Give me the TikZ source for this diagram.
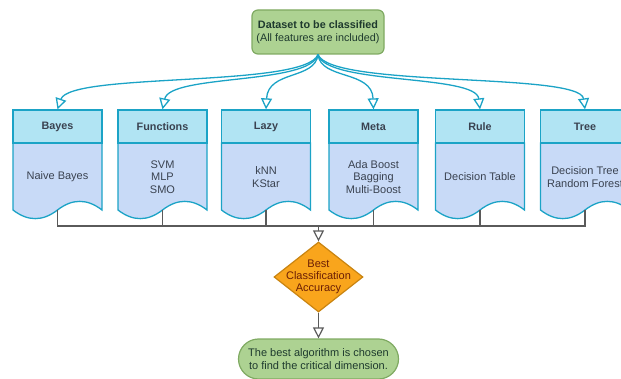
\documentclass[tikz,border=0pt]{standalone}
\usepackage{fontspec}
\setmainfont{Liberation Sans}
\usetikzlibrary{shapes.geometric,arrows.meta,calc}
\definecolor{teal1}{HTML}{1BA3C6}
\definecolor{hdrfill}{HTML}{B1E4F3}
\definecolor{bodyfill}{HTML}{C8DAF7}
\definecolor{grnfill}{HTML}{ADD292}
\definecolor{grnline}{HTML}{7FAA62}
\definecolor{orfill}{HTML}{F9A51C}
\definecolor{orline}{HTML}{C98410}
\definecolor{txtdark}{HTML}{3A4250}
\definecolor{grntxt}{HTML}{1E3A2E}
\definecolor{redtxt}{HTML}{6B1E05}
\definecolor{conn}{HTML}{5A5A5A}
\tikzset{
  fnt/.style={font=\fontsize{11}{12.3}\selectfont},
  hdr/.style={draw=teal1, fill=hdrfill, line width=1.3pt, minimum width=89pt,
    minimum height=33pt, inner sep=0pt, font=\fontsize{10.8}{12.5}\selectfont\bfseries, text=txtdark},
  bodytxt/.style={fnt, align=center, text=txtdark, inner sep=0pt},
  bodyshape/.style={draw=teal1, fill=bodyfill, line width=1.3pt},
  topn/.style={draw=grnline, fill=grnfill, line width=1.2pt, rounded corners=6pt,
    minimum width=132pt, minimum height=44pt, inner sep=0pt, align=center,
    font=\fontsize{10.8}{12.7}\selectfont, text=grntxt},
  endn/.style={draw=grnline, fill=grnfill, line width=1.2pt, rounded corners=20pt,
    minimum width=160pt, minimum height=40pt, inner sep=0pt, align=center, fnt, text=grntxt},
  dia/.style={diamond, draw=orline, fill=orfill, line width=1.2pt, minimum width=89pt,
    minimum height=70pt, inner sep=0pt},
  openarr/.style={-{Triangle[fill=white, length=11pt, width=11pt]}},
  curve/.style={draw=teal1, line width=1.3pt, openarr},
  gcon/.style={draw=conn, line width=1.2pt},
}
\newcommand\docbox[4]{%
  \draw[bodyshape] ({#2-44.5},143) -- ({#2+44.5},143) -- ({#2+44.5},210)
    .. controls ({#2+29.7},198.5) and ({#2+14.8},198.5) .. (#2,210)
    .. controls ({#2-14.8},221.5) and ({#2-29.7},221.5) .. ({#2-44.5},210) -- cycle;
  \node[hdr] (#1h) at (#2,126.5) {#3};
  \node[bodytxt] (#1t) at (#2,177) {#4};
  \coordinate (#1b) at (#2,210);
}
\begin{document}
\begin{tikzpicture}[x=1pt,y=-1pt]
\useasboundingbox (0,0) rectangle (621,379);
\clip (0,0) rectangle (621,379);
\node[topn] (top) at (318,32) {\textbf{Dataset to be classified}\\(All features are included)};
\docbox{ba}{57.5}{Bayes}{Naive Bayes}
\docbox{fu}{162.5}{Functions}{SVM\\MLP\\SMO}
\docbox{la}{266}{Lazy}{kNN\\KStar}
\docbox{me}{373.5}{Meta}{Ada Boost\\Bagging\\Multi-Boost}
\docbox{ru}{480}{Rule}{Decision Table}
\docbox{tr}{585}{Tree}{Decision Tree\\Random Forest}
\draw[curve] (top.south) .. controls (305,88) and (70,72) .. (bah.north);
\draw[curve] (top.south) .. controls (310,85) and (170,74) .. (fuh.north);
\draw[curve] (top.south) .. controls (315,80) and (268,70) .. (lah.north);
\draw[curve] (top.south) .. controls (321,80) and (372,70) .. (meh.north);
\draw[curve] (top.south) .. controls (326,85) and (476,74) .. (ruh.north);
\draw[curve] (top.south) .. controls (331,88) and (580,72) .. (trh.north);
\node[dia] (dia) at (318.5,277) {};
\node[fnt, align=center, text=redtxt, inner sep=0pt] (diat) at (dia.center) {Best\\Classification\\Accuracy};
\coordinate (bus) at (318.5,226);
\draw[gcon] (bab) |- (bus);
\draw[gcon] (fub) |- (bus);
\draw[gcon] (lab) |- (bus);
\draw[gcon] (meb) |- (bus);
\draw[gcon] (rub) |- (bus);
\draw[gcon] (trb) |- (bus);
\draw[gcon, openarr] (bus) -- (dia.north);
\node[endn] (end) at (318.5,359) {The best algorithm is chosen\\to find the critical dimension.};
\draw[gcon, openarr] (dia.south) -- (end.north);
\end{tikzpicture}
\end{document}
